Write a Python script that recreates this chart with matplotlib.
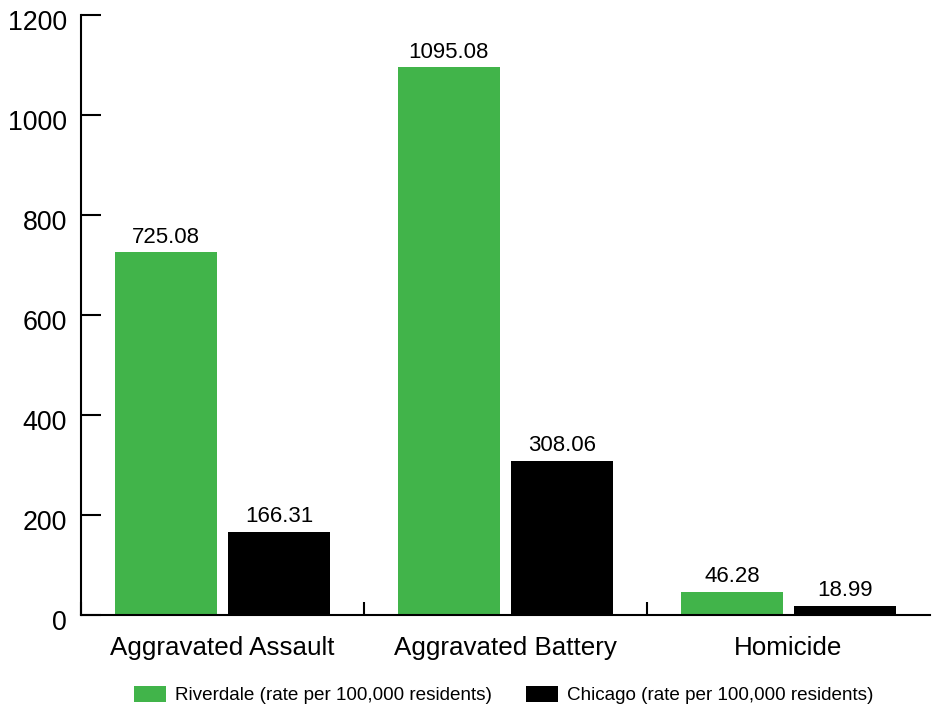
import matplotlib
matplotlib.use("Agg")
import matplotlib.pyplot as plt
from matplotlib.patches import Patch
from matplotlib.transforms import ScaledTranslation

plt.rcParams['font.family'] = ['Liberation Sans', 'DejaVu Sans']

categories = ["Aggravated Assault", "Aggravated Battery", "Homicide"]
riverdale = [725.08, 1095.08, 46.28]
chicago = [166.31, 308.06, 18.99]
series_names = ["Riverdale (rate per 100,000 residents)",
                "Chicago (rate per 100,000 residents)"]
y_ticks = [0, 200, 400, 600, 800, 1000, 1200]

green = "#41b44a"
black = "#000000"

fig = plt.figure(figsize=(9.35, 7.05), dpi=100)
ax = fig.add_axes([81 / 935, 90 / 705, (930 - 81) / 935, 600 / 705])

x = list(range(len(categories)))
w = 0.36
off = 0.2
b1 = ax.bar([i - off for i in x], riverdale, width=w, color=green)
b2 = ax.bar([i + off for i in x], chicago, width=w, color=black)

for bars, vals in ((b1, riverdale), (b2, chicago)):
    for rect, v in zip(bars, vals):
        ax.annotate(f"{v:.2f}", (rect.get_x() + rect.get_width() / 2, v),
                    xytext=(0, 3.5), textcoords="offset points",
                    ha="center", va="bottom", fontsize=16)

ax.set_xlim(-0.5, len(categories) - 0.5)
ax.set_ylim(0, 1200)
ax.set_yticks(y_ticks)
ax.set_xticks(x)
ax.set_xticklabels(categories, fontsize=18.7)
ax.set_xticks([i - 0.5 for i in x], minor=True)

for s in ("top", "right"):
    ax.spines[s].set_visible(False)
for s in ("left", "bottom"):
    ax.spines[s].set_linewidth(1.5)

ax.tick_params(axis="y", direction="in", length=14.5, width=1.5,
               labelsize=19.3, pad=10)
ax.tick_params(axis="x", which="major", length=0, pad=15)
ax.tick_params(axis="x", which="minor", direction="in", length=9.5, width=1.5)

# nudge the y tick labels slightly below their ticks
shift = ScaledTranslation(0, -5 / 100, fig.dpi_scale_trans)
for lbl in ax.get_yticklabels():
    lbl.set_transform(lbl.get_transform() + shift)

handles = [Patch(facecolor=green, edgecolor="none"),
           Patch(facecolor=black, edgecolor="none")]
fig.legend(handles, series_names, loc="center", ncol=2,
           bbox_to_anchor=(0.5385, 0.014), frameon=False, fontsize=13.6,
           handlelength=1.7, handleheight=0.95, handletextpad=0.48,
           columnspacing=1.8, borderpad=0)

fig.savefig("out.png", dpi=100)
